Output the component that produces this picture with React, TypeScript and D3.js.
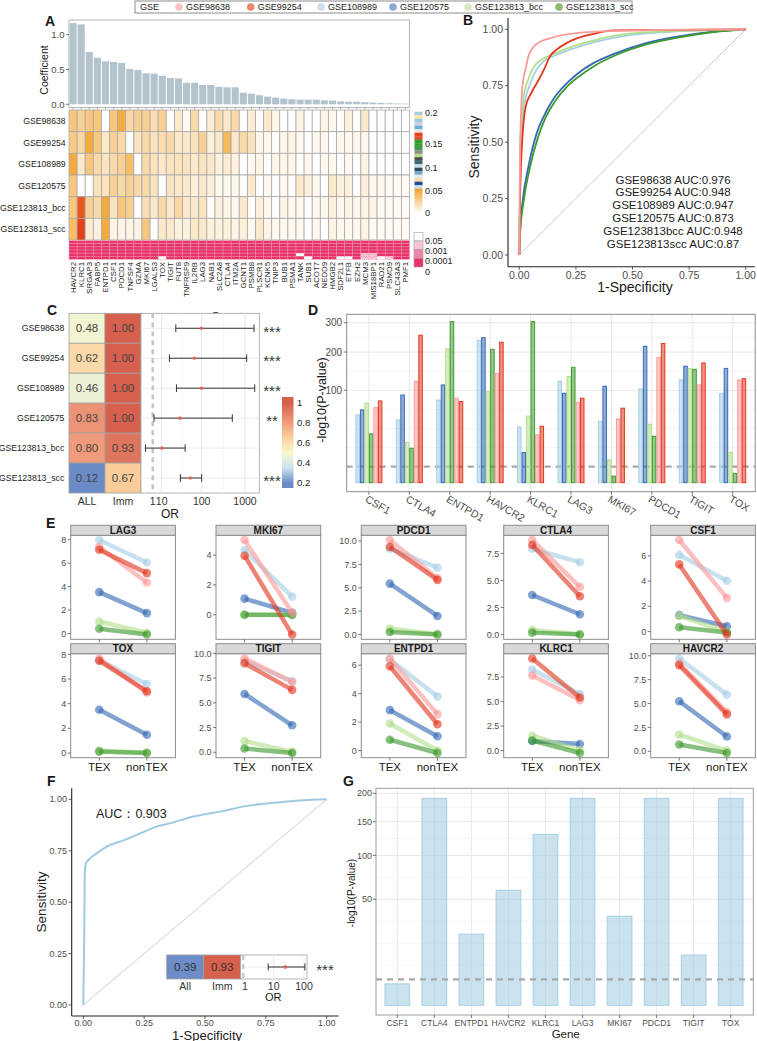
import React from 'react';
import * as d3 from 'd3';

const FONT = "'Liberation Sans', Arial, Helvetica, sans-serif";
const TXT = '#1a1a1a';
const TICK = '#4d4d4d';

// ===== shared datasets =====
const gseNames = ['GSE98638', 'GSE99254', 'GSE108989', 'GSE120575', 'GSE123813_bcc', 'GSE123813_scc'];
const gseLegendColors = ['#f6c3c2', '#e8886c', '#cddff0', '#8da8d8', '#d5e9c3', '#8dba70'];
const gseColors = ['#FB9A99', '#E2371F', '#A6CEE3', '#3569B5', '#B2DF8A', '#3E9A2E'];
const drawOrder = ['GSE108989', 'GSE120575', 'GSE123813_bcc', 'GSE123813_scc', 'GSE98638', 'GSE99254'];
const colorOf = (n: string) => gseColors[gseNames.indexOf(n)];

// ===== Panel A =====
const genesA = ['HAVCR2','KLRC1','SRGAP3','FABP5','ENTPD1','CSF1','PDCD1','TNFSF4','GZMA','MKI67','LGALS3','TOX','TIGIT','FUT8','TNFRSF9','IL2RB','LAG3','NAB1','SLC2A8','CTLA4','ITM2A','GCNT1','PSMB8','PLSCR1','KCNK5','TNIP3','BUB1','PSMA1','TANK','SUB1','ACOT7','NEDD9','HMGB2','SDF2L1','ETFB','EZH2','MCM3','MIS18BP1','RAD21','PSMD9','SLC43A3','PMF1'];
const coefA = [1.167,1.148,0.751,0.67,0.617,0.608,0.593,0.507,0.493,0.445,0.44,0.41,0.378,0.373,0.31,0.31,0.278,0.278,0.25,0.244,0.244,0.167,0.153,0.13,0.11,0.096,0.081,0.072,0.067,0.067,0.067,0.057,0.053,0.043,0.038,0.038,0.03,0.025,0.02,0.015,0.012,0.01];
const heat98638 = [0.03,0.025,0.03,0.03,0, 0.03,0.045,0.02,0.025,0.025, 0.018,0.025,0,0.012,0.003, 0.02,0,0.01,0.02,0.012, 0.02,0,0.01,0,0.012, 0.005,0,0,0.006,0, 0,0.006,0.004,0,0.008, 0,0.012,0,0,0, 0,0];
const heat99254 = [0.028,0.022,0.045,0.03,0.012, 0.025,0.02,0,0.015,0.02, 0.015,0.018,0.02,0.012,0.012, 0.015,0.025,0.008,0.012,0.038, 0.012,0.02,0.015,0.005,0.005, 0,0.005,0.006,0.004,0, 0.004,0.004,0,0.004,0.004, 0.004,0.004,0,0,0, 0,0];
const heat108989 = [0.045,0.012,0.03,0.02,0.015, 0.02,0.025,0.035,0,0.02, 0.015,0.012,0.015,0.015,0.015, 0.012,0.015,0.012,0.008,0.01, 0.008,0,0.004,0.006,0, 0.005,0.005,0.005,0,0.004, 0,0.004,0.004,0,0.003, 0,0.006,0,0,0, 0,0];
const heat120575 = [0.03,0,0,0.015,0.015, 0.025,0.02,0.025,0.02,0.02, 0.015,0,0.015,0.012,0.012, 0.008,0.012,0.008,0.004,0.004, 0.004,0,0.012,0,0.004, 0,0.004,0,0.012,0.008, 0.004,0,0.012,0.008,0.008, 0,0.008,0.004,0.004,0.003, 0.003,0.003];
const heatBcc = [0.03,0.17,0.025,0.02,0.045, 0.015,0.03,0.025,0,0.018, 0.012,0.02,0.012,0.02,0.012, 0.012,0.015,0,0.008,0.006, 0.004,0.012,0,0.008,0.004, 0,0.006,0.004,0.004,0, 0.004,0.004,0.008,0.004,0.006, 0.004,0.006,0.006,0.003,0.003, 0.003,0.003];
const heatScc = [0.035,0.19,0.01,0.008,0.045, 0.006,0.006,0.006,0.006,0.03, 0,0.012,0.012,0.008,0.008, 0.012,0.012,0.008,0.008,0.008, 0.006,0.008,0.004,0.012,0.006, 0.004,0.004,0.004,0.004,0, 0.004,0,0.006,0.004,0.004, 0.004,0.006,0.003,0.003,0.003, 0.003,0.003];
// p-value class: 3 = <0.0001, 2 = <0.001, 1 = <0.05, 0 = n.s.
const pBand98638 = [3,3,3,3,3,3,3,3,3,3, 3,3,3,3,3,3,3,3,3,3, 3,3,3,3,3,3,3,3,3,3, 3,3,3,3,3,3,3,3,3,3, 3,3];
const pBand99254 = [3,3,3,3,3,3,3,3,3,3, 3,3,3,3,3,3,3,3,3,3, 3,3,3,3,3,3,3,3,3,3, 3,3,3,3,3,3,3,3,3,3, 3,3];
const pBand108989 = [3,3,3,3,3,3,3,3,3,3, 3,3,3,3,3,3,3,3,3,3, 3,3,3,3,3,3,3,3,3,3, 3,3,3,3,3,3,3,3,3,3, 3,3];
const pBand120575 = [3,3,3,3,3,3,3,3,3,3, 3,3,3,3,3,3,3,3,3,3, 3,3,3,3,3,3,3,3,3,3, 3,3,3,3,3,3,3,3,3,3, 3,3];
const pBandBcc = [3,3,3,3,3,3,3,3,3,3, 3,3,3,3,3,3,3,3,3,3, 3,3,3,3,3,3,3,3,0,3, 3,3,3,3,3,3,1,1,3,3, 3,3];
const pBandScc = [3,3,3,3,3,3,3,3,3,3, 3,0,3,3,3,3,3,3,3,3, 3,3,3,3,3,3,3,3,3,0, 3,3,3,0,0,3,1,1,0,1, 3,3];
const heatTicks = [0, 0.05, 0.1, 0.15, 0.2];
const heatStripes = ['#a6cee3','#fbe7a1','#9ecae1','#d0d0e8','#6baed6','#e6e6e6','#e3401c','#e84a2a','#2ca02c','#33a02c','#3f9a4a','#8c8c8c','#b2df8a','#4d4d4d','#386c7a','#c6dbef','#2f4f5f','#7aa6c2','#dfe9f3','#fdd7a0','#1f4e9c','#c6dbef'];
const pLegendLabels = ['0.05', '0.001', '0.0001', '0'];
const pClassColors = ['#ffffff', '#f6c4d5', '#ee86a8', '#e8336a'];

// ===== Panel B =====
const roc98638 = [[0,0],[0.003,0.39],[0.01,0.69],[0.018,0.78],[0.029,0.83],[0.04,0.88],[0.054,0.91],[0.084,0.94],[0.135,0.96],[0.194,0.975],[0.27,0.985],[0.34,0.99],[0.6,0.997],[1,1]];
const roc99254 = [[0,0],[0.003,0.24],[0.015,0.54],[0.029,0.66],[0.054,0.72],[0.088,0.78],[0.113,0.83],[0.135,0.88],[0.165,0.91],[0.21,0.94],[0.254,0.96],[0.328,0.98],[0.415,0.995],[1,1]];
const roc108989 = [[0,0],[0.005,0.42],[0.02,0.65],[0.045,0.75],[0.075,0.82],[0.11,0.86],[0.16,0.885],[0.24,0.915],[0.34,0.945],[0.46,0.97],[0.65,0.988],[1,1]];
const roc120575 = [[0,0],[0.003,0.1],[0.015,0.24],[0.04,0.39],[0.077,0.54],[0.106,0.61],[0.15,0.69],[0.209,0.76],[0.253,0.8],[0.327,0.85],[0.415,0.89],[0.563,0.94],[0.71,0.97],[0.857,0.99],[1,1]];
const rocBcc = [[0,0],[0.003,0.47],[0.018,0.69],[0.04,0.78],[0.062,0.83],[0.106,0.87],[0.15,0.89],[0.224,0.92],[0.327,0.95],[0.445,0.975],[0.636,0.99],[1,1]];
const rocScc = [[0,0],[0.004,0.1],[0.018,0.23],[0.045,0.38],[0.082,0.52],[0.112,0.6],[0.157,0.68],[0.215,0.75],[0.262,0.79],[0.335,0.84],[0.425,0.885],[0.57,0.935],[0.72,0.967],[0.86,0.988],[1,1]];
const aucLabels = ['GSE98638 AUC:0.976','GSE99254 AUC:0.948','GSE108989 AUC:0.947','GSE120575 AUC:0.873','GSE123813bcc AUC:0.948','GSE123813scc AUC:0.87'];
const rocTicks = [0, 0.25, 0.5, 0.75, 1];

// ===== Panel C =====
const cAll = [0.48, 0.62, 0.46, 0.83, 0.80, 0.12];
const cImm = [1.00, 1.00, 1.00, 1.00, 0.93, 0.67];
const cOR = [98, 65.5, 100, 28.4, 10.1, 52];
const cLo = [22.5, 15.6, 23.4, 1.4, 0.16, 29.4];
const cHi = [1616, 1094, 1675, 509, 38.5, 100];
const cStars = ['***', '***', '***', '**', '', '***'];
const cORTicks = [1, 10, 100, 1000];
const cColTicks = [0.2, 0.4, 0.6, 0.8, 1];

// ===== Panel D / G =====
const genesD = ['CSF1','CTLA4','ENTPD1','HAVCR2','KLRC1','LAG3','MKI67','PDCD1','TIGIT','TOX'];
const d98638 = [66, 121, 83.5, 140, 26.8, 75.7, 47.6, 184, 112, 123.7];
const d99254 = [78.3, 255, 77, 231, 37.3, 83.5, 65, 227, 168, 126.8];
const d108989 = [53.8, 46, 80, 237, 36.4, 121, 44.2, 103, 124, 93.6];
const d120575 = [62, 90, 112, 246.5, 10.6, 93.6, 109, 218, 159, 153];
const dBcc = [74, 19, 210, 97, 52, 132, 6.1, 40, 152.5, 10.8];
const dScc = [27.9, 13.9, 304, 208.5, 304, 156, 0.5, 25.2, 150.6, 1.0];
const dTicks = [100, 200, 300];
const dMinor = [3.0, 14.4, 34.3, 62.9, 145.7, 247.5];
const gValues = [2.04, 190.6, 22.5, 58.9, 130, 190.6, 35.3, 190.6, 11.2, 190.6];
const gTicks = [50, 100, 150, 200];
const gMinor = [7.2, 17.1, 31.4, 72.9, 123.7, 174.3];
const pThreshold = 3;

// ===== Panel E =====
const genesE = ['LAG3','MKI67','PDCD1','CTLA4','CSF1','TOX','TIGIT','ENTPD1','KLRC1','HAVCR2'];
const groupsE = ['TEX', 'nonTEX'];
const texLAG3 = [7.37, 7.14, 7.97, 3.53, 1.02, 0.4];
const nonLAG3 = [4.35, 5.15, 6.06, 1.74, 0.06, -0.09];
const texMKI67 = [5.01, 3.96, 4.34, 1.08, 0, 0];
const nonMKI67 = [0.13, -1.33, 1.21, 0.13, 0, -0.02];
const texPDCD1 = [10.1, 9.36, 9.18, 5.44, 0.64, 0.28];
const nonPDCD1 = [6.01, 5.84, 7.15, 1.99, 0.04, 0];
const texCTLA4 = [8.74, 8.28, 7.94, 3.66, 0.43, 0.18];
const nonCTLA4 = [4.4, 3.54, 6.68, 1.88, 0.03, 0];
const texCSF1 = [7.25, 5.32, 6.06, 1.3, 1.24, 0.34];
const nonCSF1 = [2.67, -0.24, 4.02, 0.42, -0.03, -0.08];
const texTOX = [7.67, 7.48, 7.5, 3.51, 0.19, 0.11];
const nonTOX = [4.9, 5.01, 5.59, 1.48, 0.03, 0];
const texTIGIT = [9.49, 9.01, 9.25, 5.9, 1.13, 0.38];
const nonTIGIT = [7.1, 6.31, 7.2, 2.73, 0.07, -0.07];
const texENTPD1 = [6.47, 5.92, 6.4, 2.84, 1.9, 0.76];
const nonENTPD1 = [2.56, 1.85, 3.79, 1.0, 0, -0.17];
const texKLRC1 = [7.64, 9.38, 8.25, 0.99, 1.51, 1.03];
const nonKLRC1 = [5.14, 5.41, 5.75, 0.68, 0.03, -0.24];
const texHAVCR2 = [9.19, 9.02, 9.72, 5.23, 1.75, 0.7];
const nonHAVCR2 = [4.1, 3.86, 5.93, 1.54, 0.07, -0.18];
const ticksE = [[0,2,4,6,8],[0,2,4],[0,2.5,5,7.5,10],[0,2.5,5,7.5],[0,2,4,6],[0,2,4,6,8],[0,2.5,5,7.5,10],[0,2,4,6],[0,2.5,5,7.5],[0,2.5,5,7.5,10]];

// ===== Panel F =====
const rocF = [[0,0],[0.004,0.35],[0.006,0.65],[0.011,0.69],[0.021,0.705],[0.055,0.737],[0.096,0.77],[0.164,0.8],[0.233,0.834],[0.3,0.867],[0.356,0.883],[0.404,0.9],[0.452,0.916],[0.562,0.94],[0.672,0.968],[0.795,0.984],[0.89,0.994],[1,1]];
const fAll = 0.39;
const fImm = 0.93;
const fOR = 24.3;
const fLo = 6.6;
const fHi = 107;
const fORTicks = [1, 10, 100];

// ===== layout constants =====
const LEGEND_X = [179, 250.7, 321, 393, 468, 559];
const FACET_LEFT = [70.7, 216, 361.3, 503.7, 650.7];
const FACET_W = 104.7;
const ROW_TOP = [525.3, 643.7];
const STRIP_H = 10;
const PANEL_H = 104;

function Legend() {
  return (
    <g>
      <rect x={135} y={1} width={497} height={12} fill="#fff" stroke="#8c8c8c" strokeWidth={1} />
      <text x={140} y={10.3} fontSize={9} fill={TXT}>GSE</text>
      {gseNames.map((n, i) => (
        <g key={n}>
          <circle cx={LEGEND_X[i]} cy={7} r={3.8} fill={gseLegendColors[i]} />
          <text x={LEGEND_X[i] + 7} y={10.3} fontSize={9} fill={TXT}>{n}</text>
        </g>
      ))}
    </g>
  );
}

function PanelA() {
  const x = d3.scaleBand().domain(genesA).range([69, 409.5]);
  const bw = x.bandwidth();
  const y = d3.scaleLinear().domain([0, 1]).range([104.3, 34.7]);
  const ry = d3.scaleBand().domain(gseNames).range([110, 240]);
  const py = d3.scaleBand().domain(gseNames).range([240.7, 259.3]);
  const heatRows = [heat98638, heat99254, heat108989, heat120575, heatBcc, heatScc];
  const pRows = [pBand98638, pBand99254, pBand108989, pBand120575, pBandBcc, pBandScc];
  const orange = d3.scaleLinear<string>().domain([0, 0.05]).range(['#ffffff', '#f3a126']).clamp(true);
  const reds = d3.scaleLinear<string>().domain([0.15, 0.2]).range(['#ec6a22', '#e2361a']).clamp(true);
  const heatColor = (v: number) => (v > 0.06 ? reds(v) : orange(v));
  const ly = d3.scaleLinear().domain(heatTicks).range([213, 191, 168, 144, 113]);
  const stripeTop = 111.7, stripeBot = ly(0.055);
  const sh = (stripeBot - stripeTop) / heatStripes.length;
  const pl = d3.scalePoint().domain(pLegendLabels).range([241, 271.5]);
  const pb = d3.scaleBand().domain(pLegendLabels).range([232.3, 267]);
  return (
    <g>
      <defs>
        <linearGradient id="heatGrad" x1="0" y1="1" x2="0" y2="0">
          <stop offset="0%" stopColor={orange(0)} />
          <stop offset="100%" stopColor={orange(0.05)} />
        </linearGradient>
      </defs>
      <text x={45} y={26} fontSize={14} fontWeight="bold" fill={TXT}>A</text>
      <rect x={69} y={20} width={340.5} height={87.5} fill="#fff" stroke="#b5b5b5" strokeWidth={1} />
      {genesA.map((g, i) => (
        <rect key={g} x={x(g)! + bw * 0.06} y={y(coefA[i])} width={bw * 0.88} height={y(0) - y(coefA[i])} fill="#b3c3ce" />
      ))}
      {genesA.map((g) => (
        <line key={g} x1={x(g)! + bw / 2} x2={x(g)! + bw / 2} y1={107.5} y2={109.5} stroke="#777" strokeWidth={0.6} />
      ))}
      {[0, 0.5, 1].map((t) => (
        <g key={t}>
          <line x1={66} x2={69} y1={y(t)} y2={y(t)} stroke="#555" strokeWidth={0.8} />
          <text x={64.5} y={y(t)} dy="0.35em" textAnchor="end" fontSize={9.5} fill={TICK}>{d3.format('.1f')(t)}</text>
        </g>
      ))}
      <text transform="translate(48,70) rotate(-90)" textAnchor="middle" fontSize={10.5} fill={TXT}>Coefficient</text>
      {gseNames.map((n, r) => (
        <g key={n}>
          {genesA.map((g, i) => (
            <rect key={g} x={x(g)} y={ry(n)} width={bw} height={ry.bandwidth()} fill={heatColor(heatRows[r][i])} stroke="#a9a9a9" strokeWidth={0.8} />
          ))}
          <text x={65.7} y={ry(n)! + ry.bandwidth() / 2} dy="0.35em" textAnchor="end" fontSize={8.7} fill={TXT}>{n}</text>
        </g>
      ))}
      {gseNames.map((n, r) => (
        <g key={'p' + n}>
          {genesA.map((g, i) => (
            <rect key={g} x={x(g)} y={py(n)} width={bw} height={py.bandwidth()} fill={pClassColors[pRows[r][i]]} stroke="#f09ab5" strokeWidth={0.4} />
          ))}
        </g>
      ))}
      {genesA.map((g) => (
        <text key={g} transform={`translate(${x(g)! + bw / 2 + 2.7},262) rotate(-90)`} textAnchor="end" fontSize={7.8} fill={TXT}>{g}</text>
      ))}
      <text x={225.3} y={320} textAnchor="middle" fontSize={11.5} fill={TXT}>Gene</text>
      {heatStripes.map((c, i) => (
        <rect key={i} x={414.5} y={stripeTop + i * sh} width={8} height={sh + 0.2} fill={c} />
      ))}
      <rect x={414.5} y={stripeBot} width={8} height={ly(0) - stripeBot} fill="url(#heatGrad)" />
      {heatTicks.map((t) => (
        <text key={t} x={425} y={ly(t)} dy="0.35em" fontSize={9} fill={TXT}>{t}</text>
      ))}
      {pLegendLabels.map((l, i) => (
        <g key={l}>
          <rect x={414} y={pb(l)} width={9} height={pb.bandwidth()} fill={pClassColors[i]} stroke="#a0a0a0" strokeWidth={0.6} />
          <text x={425} y={pl(l)} dy="0.35em" fontSize={9} fill={TXT}>{l}</text>
        </g>
      ))}
    </g>
  );
}

function PanelB() {
  const x = d3.scaleLinear().domain([0, 1]).range([519.3, 745.7]);
  const y = d3.scaleLinear().domain([0, 1]).range([255, 29.3]);
  const line = d3.line<number[]>().x((d) => x(d[0])).y((d) => y(d[1])).curve(d3.curveMonotoneX);
  const curves = [
    { d: roc120575, n: 'GSE120575' },
    { d: rocScc, n: 'GSE123813_scc' },
    { d: roc108989, n: 'GSE108989' },
    { d: rocBcc, n: 'GSE123813_bcc' },
    { d: roc99254, n: 'GSE99254' },
    { d: roc98638, n: 'GSE98638' },
  ];
  const ay = d3.scalePoint().domain(aucLabels).range([183.5, 247.5]);
  return (
    <g>
      <text x={463} y={25} fontSize={14} fontWeight="bold" fill={TXT}>B</text>
      <line x1={x(0)} y1={y(0)} x2={x(1)} y2={y(1)} stroke="#c8c8c8" strokeWidth={0.9} />
      {curves.map((c) => (
        <path key={c.n} d={line(c.d as any) || ''} fill="none" stroke={colorOf(c.n)} strokeWidth={1.8} />
      ))}
      <line x1={508} y1={18} x2={508} y2={266.7} stroke="#222" strokeWidth={1.1} />
      <line x1={508} y1={266.7} x2={755} y2={266.7} stroke="#222" strokeWidth={1.1} />
      {rocTicks.map((t) => (
        <g key={t}>
          <line x1={505} x2={508} y1={y(t)} y2={y(t)} stroke="#333" strokeWidth={0.8} />
          <text x={503} y={y(t)} dy="0.35em" textAnchor="end" fontSize={10.5} fill={TICK}>{d3.format('.2f')(t)}</text>
          <line x1={x(t)} x2={x(t)} y1={266.7} y2={269.7} stroke="#333" strokeWidth={0.8} />
          <text x={x(t)} y={279} textAnchor="middle" fontSize={10.5} fill={TICK}>{d3.format('.2f')(t)}</text>
        </g>
      ))}
      <text transform="translate(479,147) rotate(-90)" textAnchor="middle" fontSize={14} fill={TXT}>Sensitivity</text>
      <text x={635} y={292} textAnchor="middle" fontSize={14} fill={TXT}>1-Specificity</text>
      {aucLabels.map((l) => (
        <text key={l} x={673} y={ay(l)} textAnchor="middle" fontSize={11.5} fill={TXT}>{l}</text>
      ))}
    </g>
  );
}

function PanelC() {
  const y = d3.scaleBand().domain(gseNames).range([313.3, 493]);
  const cx = d3.scaleBand().domain(['ALL', 'Imm']).range([69, 141]);
  const col = d3.scaleLinear<string>().domain([0.2, 0.35, 0.5, 0.65, 0.8, 1]).range(['#6a8bc6', '#cde2ee', '#f7f6cc', '#fad39f', '#f09c7c', '#d6604d']).clamp(true);
  const xs = d3.scaleLinear().domain([0, 1, 2, 3]).range([152.7, 161.7, 201.7, 245]);
  const fx = (v: number) => xs(Math.log10(v));
  const cy = d3.scaleLinear().domain([0.2, 1]).range([483, 403]);
  const fmt = d3.format('.2f');
  return (
    <g>
      <defs>
        <linearGradient id="cGrad" x1="0" y1="1" x2="0" y2="0">
          {[0.15, 0.2, 0.35, 0.5, 0.65, 0.8, 1, 1.06].map((v) => (
            <stop key={v} offset={`${((v - 0.15) / 0.91) * 100}%`} stopColor={col(v)} />
          ))}
        </linearGradient>
      </defs>
      <text x={47} y={315} fontSize={14} fontWeight="bold" fill={TXT}>C</text>
      {gseNames.map((n, i) => (
        <g key={n}>
          <rect x={cx('ALL')} y={y(n)} width={cx.bandwidth()} height={y.bandwidth()} fill={col(cAll[i])} stroke="#a0a0a0" strokeWidth={0.8} />
          <rect x={cx('Imm')} y={y(n)} width={cx.bandwidth()} height={y.bandwidth()} fill={col(cImm[i])} stroke="#a0a0a0" strokeWidth={0.8} />
          <text x={cx('ALL')! + cx.bandwidth() / 2} y={y(n)! + y.bandwidth() / 2} dy="0.36em" textAnchor="middle" fontSize={11.5} fill="#444">{fmt(cAll[i])}</text>
          <text x={cx('Imm')! + cx.bandwidth() / 2} y={y(n)! + y.bandwidth() / 2} dy="0.36em" textAnchor="middle" fontSize={11.5} fill="#444">{fmt(cImm[i])}</text>
          <text x={64.3} y={y(n)! + y.bandwidth() / 2} dy="0.35em" textAnchor="end" fontSize={8.7} fill={TXT}>{n}</text>
        </g>
      ))}
      <rect x={141} y={313.3} width={118.3} height={179.7} fill="#fff" stroke="#a0a0a0" strokeWidth={0.8} />
      {gseNames.map((n) => (
        <line key={n} x1={141} x2={259.3} y1={y(n)! + y.bandwidth() / 2} y2={y(n)! + y.bandwidth() / 2} stroke="#ebebeb" strokeWidth={1} />
      ))}
      {[1.5, 2.5].map((v) => (
        <line key={v} x1={xs(v)} x2={xs(v)} y1={313.3} y2={493} stroke="#f2f2f2" strokeWidth={0.8} />
      ))}
      {cORTicks.slice(1).map((t) => (
        <line key={t} x1={fx(t)} x2={fx(t)} y1={313.3} y2={493} stroke="#e6e6e6" strokeWidth={1} />
      ))}
      <line x1={fx(1)} x2={fx(1)} y1={313.3} y2={493} stroke="#c4c4c4" strokeWidth={2.5} strokeDasharray="5,4" />
      {gseNames.map((n, i) => {
        const cyy = y(n)! + y.bandwidth() / 2;
        return (
          <g key={n}>
            <line x1={fx(cLo[i])} x2={fx(cHi[i])} y1={cyy} y2={cyy} stroke="#333" strokeWidth={1} />
            <line x1={fx(cLo[i])} x2={fx(cLo[i])} y1={cyy - 3.8} y2={cyy + 3.8} stroke="#333" strokeWidth={1} />
            <line x1={fx(cHi[i])} x2={fx(cHi[i])} y1={cyy - 3.8} y2={cyy + 3.8} stroke="#333" strokeWidth={1} />
            <circle cx={fx(cOR[i])} cy={cyy} r={1.8} fill="#ec5a50" opacity={0.85} />
            <text x={272} y={cyy} dy="0.55em" textAnchor="middle" fontSize={15} fill="#333">{cStars[i]}</text>
          </g>
        );
      })}
      {['ALL', 'Imm'].map((c) => (
        <text key={c} x={cx(c)! + cx.bandwidth() / 2} y={504.5} textAnchor="middle" fontSize={10.5} fill="#333">{c}</text>
      ))}
      {cORTicks.map((t) => (
        <text key={t} x={fx(t)} y={504.5} textAnchor="middle" fontSize={10.5} fill="#333">{t}</text>
      ))}
      <text x={170} y={518} textAnchor="middle" fontSize={12} fill={TXT}>OR</text>
      <rect x={282} y={cy(1.06)} width={11.5} height={cy(0.15) - cy(1.06)} fill="url(#cGrad)" />
      {cColTicks.map((t) => (
        <text key={t} x={297} y={cy(t)} dy="0.35em" fontSize={9.5} fill={TXT}>{t}</text>
      ))}
    </g>
  );
}

function PanelD() {
  const x0 = d3.scalePoint().domain(genesD).range([368.9, 732.7]);
  const x1 = d3.scaleBand().domain(drawOrder).range([-13.5, 13.5]);
  const y = d3.scaleSqrt().domain([100, 300]).range([390.3, 322.7]);
  const rows = [d98638, d99254, d108989, d120575, dBcc, dScc];
  const L = 346.7, R = 755.2, T = 314.3, B = 491.7;
  return (
    <g>
      <text x={308} y={315} fontSize={14} fontWeight="bold" fill={TXT}>D</text>
      <rect x={L} y={T} width={R - L} height={B - T} fill="#fff" />
      {dMinor.map((v) => (
        <line key={v} x1={L} x2={R} y1={y(v)} y2={y(v)} stroke="#f3f3f3" strokeWidth={0.8} />
      ))}
      {dTicks.map((v) => (
        <line key={v} x1={L} x2={R} y1={y(v)} y2={y(v)} stroke="#e8e8e8" strokeWidth={1} />
      ))}
      {genesD.map((g) => (
        <line key={g} x1={x0(g)} x2={x0(g)} y1={T} y2={B} stroke="#e8e8e8" strokeWidth={1} />
      ))}
      <line x1={L} x2={R} y1={y(pThreshold)} y2={y(pThreshold)} stroke="#a8a8a8" strokeWidth={2.2} strokeDasharray="6,5" />
      {genesD.map((g, gi) => (
        <g key={g}>
          {drawOrder.map((s) => {
            const v = rows[gseNames.indexOf(s)][gi];
            const c = colorOf(s);
            return (
              <rect key={s} x={x0(g)! + x1(s)! + 0.5} y={y(v)} width={x1.bandwidth() - 1} height={y(0) - y(v)} fill={c} fillOpacity={0.55} stroke={c} strokeWidth={1} />
            );
          })}
        </g>
      ))}
      <rect x={L} y={T} width={R - L} height={B - T} fill="none" stroke="#8c8c8c" strokeWidth={1} />
      {dTicks.map((t) => (
        <g key={t}>
          <line x1={L - 3} x2={L} y1={y(t)} y2={y(t)} stroke="#555" strokeWidth={0.8} />
          <text x={L - 4.5} y={y(t)} dy="0.35em" textAnchor="end" fontSize={10} fill={TICK}>{t}</text>
        </g>
      ))}
      {genesD.map((g) => (
        <g key={g}>
          <line x1={x0(g)} x2={x0(g)} y1={B} y2={B + 3} stroke="#555" strokeWidth={0.8} />
          <text transform={`translate(${x0(g)! - 2.5},498) rotate(30)`} dy="0.35em" fontSize={10.5} fill={TICK}>{g}</text>
        </g>
      ))}
      <text transform="translate(326,400) rotate(-90)" textAnchor="middle" fontSize={12.5} fill={TXT}>-log10(P-value)</text>
    </g>
  );
}

function PanelE() {
  const texE = [texLAG3, texMKI67, texPDCD1, texCTLA4, texCSF1, texTOX, texTIGIT, texENTPD1, texKLRC1, texHAVCR2];
  const nonE = [nonLAG3, nonMKI67, nonPDCD1, nonCTLA4, nonCSF1, nonTOX, nonTIGIT, nonENTPD1, nonKLRC1, nonHAVCR2];
  return (
    <g>
      <text x={46} y={528} fontSize={14} fontWeight="bold" fill={TXT}>E</text>
      {genesE.map((g, i) => {
        const r = Math.floor(i / 5), c = i % 5;
        const left = FACET_LEFT[c], top = ROW_TOP[r];
        const pTop = top + STRIP_H, pBot = pTop + PANEL_H;
        const tex = texE[i], non = nonE[i];
        const ext = d3.extent(tex.concat(non)) as [number, number];
        const pad = (ext[1] - ext[0]) * 0.05;
        const y = d3.scaleLinear().domain([ext[0] - pad, ext[1] + pad]).range([pBot, pTop]);
        const x = d3.scalePoint().domain(groupsE).range([left, left + FACET_W]).padding(0.6);
        const fmt = ticksE[i].some((t) => t % 1 !== 0) ? d3.format('.1f') : d3.format('d');
        return (
          <g key={g}>
            <rect x={left} y={pTop} width={FACET_W} height={PANEL_H} fill="#fff" />
            {drawOrder.map((s) => {
              const k = gseNames.indexOf(s);
              const col = colorOf(s);
              return (
                <g key={s}>
                  <line x1={x('TEX')} y1={y(tex[k])} x2={x('nonTEX')} y2={y(non[k])} stroke={col} strokeWidth={4.5} strokeOpacity={0.62} />
                  <circle cx={x('TEX')} cy={y(tex[k])} r={4.3} fill={col} fillOpacity={0.62} />
                  <circle cx={x('nonTEX')} cy={y(non[k])} r={4.3} fill={col} fillOpacity={0.62} />
                </g>
              );
            })}
            <rect x={left} y={pTop} width={FACET_W} height={PANEL_H} fill="none" stroke="#8c8c8c" strokeWidth={1} />
            <rect x={left} y={top} width={FACET_W} height={STRIP_H} fill="#d9d9d9" stroke="#8c8c8c" strokeWidth={1} />
            <text x={left + FACET_W / 2} y={top + STRIP_H / 2} dy="0.36em" textAnchor="middle" fontSize={10} fontWeight="bold" fill={TXT}>{g}</text>
            {ticksE[i].map((t) => (
              <g key={t}>
                <line x1={left - 3} x2={left} y1={y(t)} y2={y(t)} stroke="#555" strokeWidth={0.8} />
                <text x={left - 4.5} y={y(t)} dy="0.35em" textAnchor="end" fontSize={9} fill={TICK}>{fmt(t)}</text>
              </g>
            ))}
            {groupsE.map((gr) => (
              <g key={gr}>
                <line x1={x(gr)} x2={x(gr)} y1={pBot} y2={pBot + 3} stroke="#555" strokeWidth={0.8} />
                {r === 1 && (
                  <text x={x(gr)} y={770.5} textAnchor="middle" fontSize={11.5} fill={TXT}>{gr}</text>
                )}
              </g>
            ))}
          </g>
        );
      })}
    </g>
  );
}

function PanelF() {
  const x = d3.scaleLinear().domain([0, 1]).range([83.3, 326.7]);
  const y = d3.scaleLinear().domain([0, 1]).range([1005, 799.3]);
  const line = d3.line<number[]>().x((d) => x(d[0])).y((d) => y(d[1])).curve(d3.curveMonotoneX);
  const ox = d3.scaleLog().domain([1, 100]).range([243.3, 304]);
  const cellX = d3.scaleBand().domain(['All', 'Imm']).range([166.7, 240.7]);
  const colF = d3.scaleLinear<string>().domain([fAll, fImm]).range(['#6c8dc8', '#d7604c']);
  const iT = 955, iB = 979, iM = (iT + iB) / 2;
  return (
    <g>
      <text x={47} y={786} fontSize={14} fontWeight="bold" fill={TXT}>F</text>
      <line x1={x(0)} y1={y(0)} x2={x(1)} y2={y(1)} stroke="#c8c8c8" strokeWidth={0.9} />
      <path d={line(rocF as any) || ''} fill="none" stroke="#9ecae1" strokeWidth={2} />
      <line x1={71.7} y1={788.3} x2={71.7} y2={1016} stroke="#222" strokeWidth={1.1} />
      <line x1={71.7} y1={1016} x2={338.7} y2={1016} stroke="#222" strokeWidth={1.1} />
      {rocTicks.map((t) => (
        <g key={t}>
          <line x1={68.7} x2={71.7} y1={y(t)} y2={y(t)} stroke="#333" strokeWidth={0.8} />
          <text x={67} y={y(t)} dy="0.35em" textAnchor="end" fontSize={9} fill={TICK}>{d3.format('.2f')(t)}</text>
          <line x1={x(t)} x2={x(t)} y1={1016} y2={1019} stroke="#333" strokeWidth={0.8} />
          <text x={x(t)} y={1026.3} textAnchor="middle" fontSize={9} fill={TICK}>{d3.format('.2f')(t)}</text>
        </g>
      ))}
      <text transform="translate(45.5,902) rotate(-90)" textAnchor="middle" fontSize={13.5} fill={TXT}>Sensitivity</text>
      <text x={207} y={1039.5} textAnchor="middle" fontSize={13} fill={TXT}>1-Specificity</text>
      <text x={96} y={817.5} fontSize={12.5} fill={TXT}>AUC：0.903</text>
      <rect x={cellX('All')} y={iT} width={cellX.bandwidth()} height={iB - iT} fill={colF(fAll)} stroke="#a0a0a0" strokeWidth={0.8} />
      <rect x={cellX('Imm')} y={iT} width={cellX.bandwidth()} height={iB - iT} fill={colF(fImm)} stroke="#a0a0a0" strokeWidth={0.8} />
      <text x={cellX('All')! + cellX.bandwidth() / 2} y={iM} dy="0.36em" textAnchor="middle" fontSize={11.5} fill="#333">{fAll.toFixed(2)}</text>
      <text x={cellX('Imm')! + cellX.bandwidth() / 2} y={iM} dy="0.36em" textAnchor="middle" fontSize={11.5} fill="#333">{fImm.toFixed(2)}</text>
      <rect x={240.7} y={iT} width={66.3} height={iB - iT} fill="#fff" stroke="#a0a0a0" strokeWidth={0.8} />
      <line x1={240.7} x2={307} y1={iM} y2={iM} stroke="#ebebeb" strokeWidth={1} />
      {fORTicks.slice(1).map((t) => (
        <line key={t} x1={ox(t)} x2={ox(t)} y1={iT} y2={iB} stroke="#ebebeb" strokeWidth={1} />
      ))}
      <line x1={ox(1)} x2={ox(1)} y1={iT} y2={iB} stroke="#c4c4c4" strokeWidth={2.2} strokeDasharray="5,4" />
      <line x1={ox(fLo)} x2={ox(fHi)} y1={iM} y2={iM} stroke="#333" strokeWidth={1} />
      <line x1={ox(fLo)} x2={ox(fLo)} y1={iM - 3.5} y2={iM + 3.5} stroke="#333" strokeWidth={1} />
      <line x1={ox(fHi)} x2={ox(fHi)} y1={iM - 3.5} y2={iM + 3.5} stroke="#333" strokeWidth={1} />
      <circle cx={ox(fOR)} cy={iM} r={1.9} fill="#ec5a50" opacity={0.85} />
      <text x={325} y={iM} dy="0.55em" textAnchor="middle" fontSize={15} fill="#333">***</text>
      {['All', 'Imm'].map((c) => (
        <text key={c} x={cellX(c)! + cellX.bandwidth() / 2} y={990} textAnchor="middle" fontSize={10.5} fill="#333">{c}</text>
      ))}
      {fORTicks.map((t) => (
        <text key={t} x={ox(t) + (t === 1 ? 1.5 : 0)} y={990} textAnchor="middle" fontSize={10.5} fill="#333">{t}</text>
      ))}
      <text x={273.3} y={1000.5} textAnchor="middle" fontSize={11} fill={TXT}>OR</text>
    </g>
  );
}

function PanelG() {
  const x = d3.scalePoint().domain(genesD).range([397.3, 730.7]);
  const y = d3.scaleSqrt().domain([50, 200]).range([899.3, 793.3]);
  const L = 376, R = 753.3, T = 788.3, B = 1015;
  const bw = 24.7;
  return (
    <g>
      <text x={343} y={786} fontSize={14} fontWeight="bold" fill={TXT}>G</text>
      <rect x={L} y={T} width={R - L} height={B - T} fill="#fff" />
      {gMinor.map((v) => (
        <line key={v} x1={L} x2={R} y1={y(v)} y2={y(v)} stroke="#f3f3f3" strokeWidth={0.8} />
      ))}
      {gTicks.map((v) => (
        <line key={v} x1={L} x2={R} y1={y(v)} y2={y(v)} stroke="#e8e8e8" strokeWidth={1} />
      ))}
      {genesD.map((g) => (
        <line key={g} x1={x(g)} x2={x(g)} y1={T} y2={B} stroke="#e8e8e8" strokeWidth={1} />
      ))}
      {genesD.map((g, i) => (
        <rect key={g} x={x(g)! - bw / 2} y={y(gValues[i])} width={bw} height={y(0) - y(gValues[i])} fill="#A6CEE3" fillOpacity={0.6} stroke="#A6CEE3" strokeWidth={1} />
      ))}
      <line x1={L} x2={R} y1={y(pThreshold)} y2={y(pThreshold)} stroke="#a8a8a8" strokeWidth={2.2} strokeDasharray="6,5" />
      <rect x={L} y={T} width={R - L} height={B - T} fill="none" stroke="#9e9e9e" strokeWidth={1} />
      {gTicks.map((t) => (
        <g key={t}>
          <line x1={L - 3} x2={L} y1={y(t)} y2={y(t)} stroke="#555" strokeWidth={0.8} />
          <text x={L - 4} y={y(t)} dy="0.35em" textAnchor="end" fontSize={9} fill={TICK}>{t}</text>
        </g>
      ))}
      {genesD.map((g) => (
        <g key={g}>
          <line x1={x(g)} x2={x(g)} y1={B} y2={B + 3} stroke="#555" strokeWidth={0.8} />
          <text x={x(g)} y={1025.5} textAnchor="middle" fontSize={8.5} fill={TICK}>{g}</text>
        </g>
      ))}
      <text x={565.7} y={1038} textAnchor="middle" fontSize={11.5} fill={TXT}>Gene</text>
      <text transform="translate(355,893) rotate(-90)" textAnchor="middle" fontSize={10} fill={TXT}>-log10(P-value)</text>
    </g>
  );
}

export default function App() {
  return (
    <div style={{ position: 'absolute', left: 0, top: 0 }}>
      <svg width={757} height={1041} style={{ display: 'block', fontFamily: FONT }}>
        <rect width={757} height={1041} fill="#fff" />
        <Legend />
        <PanelA />
        <PanelB />
        <PanelC />
        <PanelD />
        <PanelE />
        <PanelF />
        <PanelG />
      </svg>
    </div>
  );
}
